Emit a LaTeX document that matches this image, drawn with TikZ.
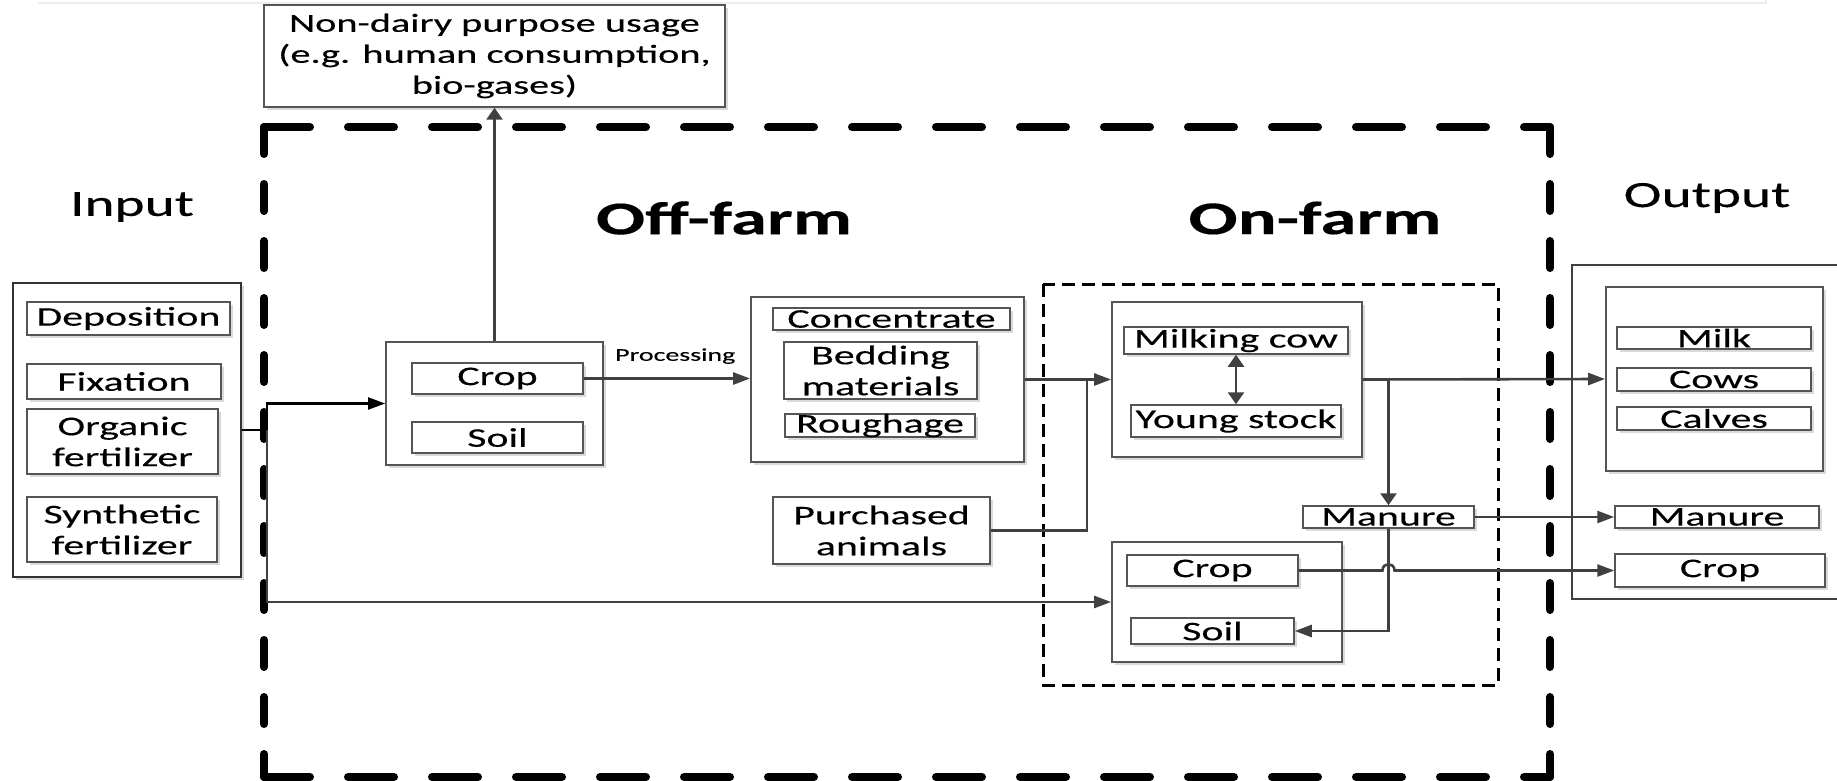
\documentclass[tikz,border=0pt]{standalone}
\usepackage{fontspec}
\setmainfont{Carlito}[FakeStretch=1.55,FakeBold=0.25]
\usetikzlibrary{arrows.meta,shadows}
\definecolor{boxgray}{HTML}{555555}
\definecolor{linegray}{HTML}{404040}
\definecolor{shadowgray}{HTML}{DADADA}
\newcommand{\boxfont}{\fontsize{27pt}{31pt}\selectfont}
\tikzset{
  shad/.style={drop shadow={shadow xshift=3pt,shadow yshift=-3pt,fill=shadowgray,opacity=1}},
  obox/.style={draw=boxgray,line width=1.8pt,fill=white,inner sep=0pt,shad},
  ibox/.style={draw=boxgray,line width=1.5pt,fill=white,inner sep=0pt,align=center,font=\boxfont,shad},
  conn/.style={draw=linegray,line width=2.6pt},
  arr/.style={conn,-{Triangle[length=17pt,width=12pt]}},
  varr/.style={conn,-{Triangle[length=12pt,width=16pt]}},
  dvarr/.style={conn,{Triangle[length=12pt,width=16pt]}-{Triangle[length=12pt,width=16pt]}},
  bigdash/.style={line width=8pt,line cap=round,black},
  label/.style={font=\fontsize{37pt}{40pt}\selectfont},
  title/.style={font=\fontsize{47pt}{50pt}\selectfont\bfseries},
}
\begin{document}
\begin{tikzpicture}[x=1pt,y=-1pt]
\useasboundingbox (0,0) rectangle (1837,781);
\clip (0,0) rectangle (1837,781);

% faint top rule
\draw[draw=black!7,line width=2pt] (38,3) -- (1766,3) -- (1766,-2);

% big dashed system boundary
\draw[bigdash,dash pattern=on 46pt off 38pt] (264,127) -- (1550,127);
\draw[bigdash,dash pattern=on 46pt off 38pt] (264,777) -- (1550,777);
\draw[bigdash,dash pattern=on 27pt off 30pt] (264,127) -- (264,777);
\draw[bigdash,dash pattern=on 27pt off 30pt] (1550,127) -- (1550,777);

% on-farm dashed box
\draw[black,line width=3pt,dash pattern=on 13pt off 7pt] (1043,284) rectangle (1498,685);

% labels
\node[label] (inlab) at (132,207) {Input};
\node[label] (outlab) at (1707,198) {Output};
\node[title] (offlab) at (724,218) {Off-farm};
\node[title] (onlab) at (1315,218) {On-farm};

% input
\node[obox,draw=black!80,line width=2.6pt,minimum width=228pt,minimum height=294pt] (inbox) at (127,430) {};
\node[ibox,minimum width=203pt,minimum height=33pt] (dep) at (128.5,318.5) {Deposition};
\node[ibox,minimum width=194pt,minimum height=35pt] (fix) at (124,381.5) {Fixation};
\node[ibox,minimum width=191pt,minimum height=65pt] (org) at (122.5,441.5) {Organic\\fertilizer};
\node[ibox,minimum width=190pt,minimum height=65pt] (syn) at (122,529.5) {Synthetic\\fertilizer};

% non-dairy
\node[ibox,minimum width=461pt,minimum height=102pt,font=\fontsize{26pt}{31pt}\selectfont] (nondairy) at (494.5,56) {Non-dairy purpose usage\\(e.g. human consumption,\\bio-gases)};

% off-farm crop/soil
\node[obox,minimum width=217pt,minimum height=123pt] (offbox) at (494.5,403.5) {};
\node[ibox,minimum width=171pt,minimum height=31pt] (offcrop) at (497.5,378.5) {Crop};
\node[ibox,minimum width=171pt,minimum height=31pt] (offsoil) at (497.5,437.5) {Soil};

% feed
\node[obox,minimum width=273pt,minimum height=165pt] (feedbox) at (887.5,379.5) {};
\node[ibox,minimum width=237pt,minimum height=22pt] (conc) at (891.5,319) {Concentrate};
\node[ibox,minimum width=193pt,minimum height=57pt] (bed) at (880.5,370.5) {Bedding\\materials};
\node[ibox,minimum width=190pt,minimum height=23pt] (rough) at (880,425.5) {Roughage};

\node[ibox,minimum width=217pt,minimum height=67pt] (purch) at (881.5,530.5) {Purchased\\animals};

% herd
\node[obox,minimum width=250pt,minimum height=155pt] (herd) at (1237,379.5) {};
\node[ibox,minimum width=224pt,minimum height=27pt] (milkcow) at (1236,340.5) {Milking cow};
\node[ibox,minimum width=210pt,minimum height=32pt] (young) at (1236,421) {Young stock};

\node[ibox,minimum width=171pt,minimum height=22pt] (manure) at (1388.5,517) {Manure};

% on-farm crop/soil
\node[obox,minimum width=230pt,minimum height=120pt] (onbox) at (1227,602) {};
\node[ibox,minimum width=171pt,minimum height=31pt] (oncrop) at (1212.5,570.5) {Crop};
\node[ibox,minimum width=163pt,minimum height=26pt] (onsoil) at (1212.5,631) {Soil};

% output
\node[draw=linegray,line width=2.6pt,fill=white,minimum width=278pt,minimum height=334pt,inner sep=0pt] (outbox) at (1711,432) {};
\node[obox,minimum width=217pt,minimum height=184pt] (outinner) at (1714.5,379) {};
\node[ibox,minimum width=194pt,minimum height=22pt] (milk) at (1714,338) {Milk};
\node[ibox,minimum width=194pt,minimum height=23pt] (cows) at (1714,379.5) {Cows};
\node[ibox,minimum width=194pt,minimum height=23pt] (calves) at (1714,418.5) {Calves};
\node[ibox,minimum width=204pt,minimum height=22pt] (outman) at (1717,517) {Manure};
\node[ibox,minimum width=210pt,minimum height=33pt] (outcrop) at (1720,570.5) {Crop};

% connectors
\coordinate (trunk) at (267,430);
\draw[conn,draw=black,line width=2.2pt] (inbox.east) -- (trunk);
\draw[arr,draw=black,line width=2.2pt] (trunk) |- (offbox.west);
\draw[arr] (trunk) |- (onbox.west);
\draw[varr] (offbox.north) -- (nondairy.south);
\draw[arr] (offcrop.east) -- (offcrop.east -| feedbox.west) node[pos=0.55,above=10pt,font=\fontsize{18pt}{20pt}\selectfont,text=black] (proc) {Processing};
\draw[arr] (feedbox.east) -- (herd.west);
\coordinate (j1) at (1087,379.5);
\draw[conn] (purch.east) -| (j1);
\draw[dvarr] (milkcow.south) -- (milkcow.south |- young.north);
\draw[arr] (herd.east) -- (outinner.west);
\draw[varr] (manure.north |- herd.east) -- (manure.north);
\draw[arr] (manure.east) -- (outman.west);
\draw[arr] (manure.south) |- (onsoil.east);
\coordinate (hopa) at (1382.5,570.5);
\coordinate (hopb) at (1394.5,570.5);
\draw[arr] (oncrop.east) -- (hopa) .. controls (1382.5,562) and (1394.5,562) .. (hopb) -- (outcrop.west);
\end{tikzpicture}
\end{document}
